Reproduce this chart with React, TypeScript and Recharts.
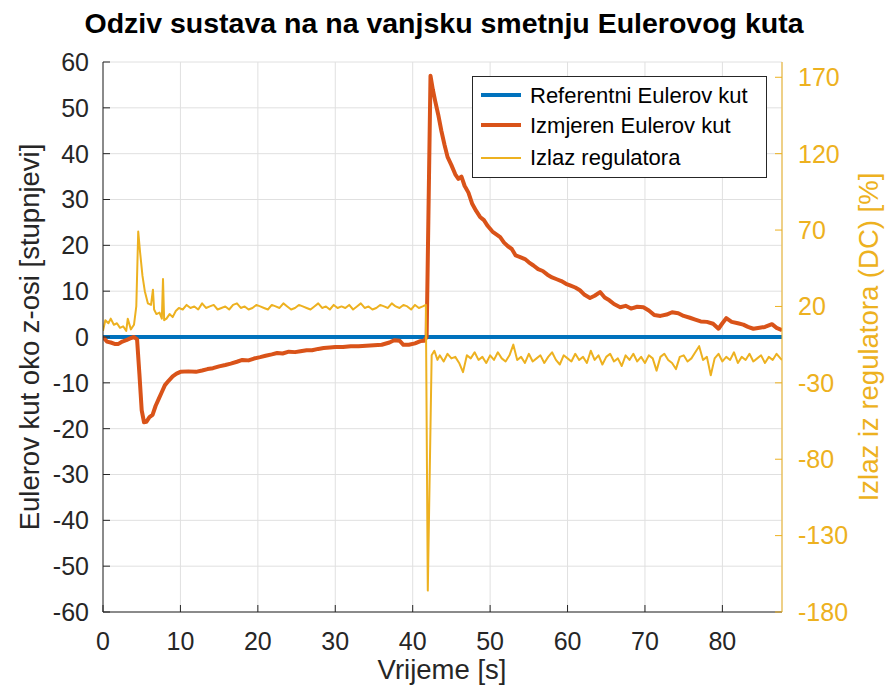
import { CartesianGrid, Line, LineChart, XAxis, YAxis } from "recharts"

const FONT = "'Liberation Sans', Arial, Helvetica, sans-serif"
const BLUE = "#0072BD"
const ORANGE = "#D95319"
const YELLOW = "#EDB120"
const AXIS = "#262626"

const xTicks = [0, 10, 20, 30, 40, 50, 60, 70, 80]
const leftTicks = [-60, -50, -40, -30, -20, -10, 0, 10, 20, 30, 40, 50, 60]
const rightTicks = [-180, -130, -80, -30, 20, 70, 120, 170]

// referentni kut (lijeva os)
const refT = [0, 87.7]
const refV = [0, 0]

// izmjereni kut (lijeva os)
const measT = [
  0, 0.5, 1, 1.5, 2, 2.5, 3, 3.5, 4, 4.4, 4.7, 5.0, 5.3, 5.6, 6.0, 6.4, 6.8, 7.2, 7.6, 8.0,
  8.5, 9.0, 9.5, 10, 11, 12, 12.8, 13.5, 14.2, 15, 15.8, 16.5, 17.3, 18, 18.8, 19.5, 20.3, 21, 21.8, 22.5,
  23.2, 24, 24.8, 25.5, 26.3, 27, 27.8, 28.5, 29.3, 30, 31, 32, 33, 34, 35, 36, 37, 37.6, 38.3, 38.8,
  39.5, 40.3, 41, 41.5, 41.8, 42.3, 42.6, 42.9, 43.3, 43.7, 44.1, 44.5, 45.0, 45.5, 45.9, 46.3, 46.7, 47.2, 47.7, 48.2,
  48.7, 49.2, 49.7, 50.3, 50.8, 51.3, 51.8, 52.3, 52.8, 53.3, 53.8, 54.5, 55, 55.6, 56.2, 56.8, 57.4, 58, 58.6, 59.2,
  59.8, 60.4, 61, 61.6, 62.2, 62.9, 63.5, 64.2, 64.8, 65.4, 66, 66.8, 67.5, 68.2, 69, 69.8, 70.5, 71.2, 72, 72.8,
  73.5, 74.3, 75, 75.8, 76.5, 77.2, 78, 78.8, 79.5, 80, 80.5, 81.2, 82, 82.7, 83.3, 84, 84.8, 85.5, 86.4, 87,
  87.7,
]
const measV = [
  0, -1, -1.2, -1.5, -1.5, -1, -0.7, -0.3, 0, -0.5, -8, -16, -18.6, -18.5, -17.5, -17, -15, -13.5, -12, -10.5,
  -9.5, -8.6, -8, -7.6, -7.5, -7.6, -7.3, -7, -6.8, -6.4, -6.1, -5.8, -5.4, -5, -5.1, -4.7, -4.4, -4.1, -3.8, -3.5,
  -3.6, -3.2, -3.3, -3.1, -2.9, -2.9, -2.6, -2.4, -2.3, -2.2, -2.2, -2, -2, -1.9, -1.8, -1.7, -1.2, -0.7, -0.8, -1.7,
  -1.7, -1.4, -0.9, -0.8, 0, 57, 54, 51.5, 48.5, 45, 42, 39.3, 37.5, 35.5, 34.5, 35, 33, 31.5, 29, 27.5,
  26.2, 25.5, 24.2, 23, 22.4, 21.8, 20.6, 19.8, 19.2, 17.8, 17.5, 17, 16.3, 15.6, 14.8, 14.4, 13.6, 13, 12.6, 12.2,
  11.6, 11.2, 10.8, 10.2, 9.2, 8.5, 9.0, 9.8, 8.6, 8, 7.2, 6.5, 6.8, 6.2, 6.6, 6.5, 5.8, 4.8, 4.6, 4.9,
  5.4, 5.2, 4.6, 4.2, 3.8, 3.4, 3.3, 2.9, 1.8, 3, 4.1, 3.3, 3, 2.7, 2.2, 1.8, 2, 2.2, 2.8, 2,
  1.5,
]

// izlaz regulatora (desna os, %)
const outT = [
  0, 0.3, 0.7, 1.0, 1.4, 1.8, 2.2, 2.6, 3.0, 3.2, 3.6, 4.0, 4.3, 4.55, 4.8, 5.1, 5.4, 5.8, 6.2, 6.45,
  6.6, 6.9, 7.3, 7.6, 7.75, 7.9, 8.2, 8.6, 9.0, 9.4, 9.8,
  10.3, 10.8, 11.3, 11.8, 12.3, 12.8, 13.3, 13.8, 14.3, 14.8, 15.3, 15.8, 16.3, 16.8, 17.3, 17.8,
  18.3, 18.8, 19.3, 19.8, 20.3, 20.8, 21.3, 21.8, 22.3, 22.8, 23.3, 23.8, 24.3, 24.8, 25.3, 25.8,
  26.3, 26.8, 27.3, 27.8, 28.3, 28.8, 29.3, 29.8, 30.3, 30.8, 31.3, 31.8, 32.3, 32.8, 33.3, 33.8,
  34.3, 34.8, 35.3, 35.8, 36.3, 36.8, 37.3, 37.8, 38.3, 38.8, 39.3, 39.8, 40.3, 40.8, 41.3, 41.7,
  41.95, 42.45, 42.8, 43.2,
  43.5, 44, 44.5, 45, 45.5, 46, 46.5, 47, 47.5, 48, 48.5, 49, 49.5, 50, 50.5, 51, 51.5, 52, 52.5, 53,
  53.5, 54, 54.5, 55, 55.5, 56, 56.5, 57, 57.5, 58, 58.5, 59, 59.5, 60, 60.5, 61, 61.5, 62, 62.5, 63,
  63.5, 64, 64.5, 65, 65.5, 66, 66.5, 67, 67.5, 68, 68.5, 69, 69.5, 70, 70.5, 71, 71.5, 72, 72.5, 73,
  73.5, 74, 74.5, 75, 75.5, 76, 76.5, 77, 77.5, 78, 78.5, 79, 79.5, 80, 80.5, 81, 81.5, 82, 82.5, 83,
  83.5, 84, 84.5, 85, 85.5, 86, 86.5, 87, 87.5, 87.7,
]
const outV = [
  4, 11, 9, 12, 8, 9, 6, 7, 4, 12, 5, 8, 20, 69, 55, 40, 30, 22, 21, 31,
  18, 15, 16, 12, 38, 11, 12, 15, 13, 17, 19,
  18, 21, 19, 20, 18, 22, 19, 20, 21, 18, 19, 20, 18, 21, 22, 19,
  20, 18, 19, 21, 20, 19, 18, 21, 20, 19, 22, 20, 18, 19, 21, 20,
  19, 18, 20, 22, 19, 20, 18, 21, 19, 20, 19, 21, 18, 20, 22, 19,
  20, 18, 19, 21, 20, 19, 22, 20, 19, 21, 20, 18, 21, 19, 20, 21,
  -166, -12, -9, -15,
  -12, -16, -11, -14, -13, -17, -23, -12, -14, -10, -15, -13, -17, -12, -15, -10, -14, -16, -12, -5,
  -15, -13, -17, -11, -16, -14, -12, -17, -13, -10, -15, -18, -12, -14, -16, -11, -15, -13, -17, -9,
  -15, -12, -18, -13, -11, -16, -14, -19, -12, -15, -11, -16, -13, -17, -12, -14, -22, -13, -11, -15,
  -17, -21, -13, -12, -16, -14, -10, -6, -15, -13, -25, -14, -11, -16, -13, -15, -10, -17, -13, -15,
  -11, -16, -14, -12, -17, -13, -15, -11, -14, -15,
]

const seriesNames = ["Referentni Eulerov kut", "Izmjeren Eulerov kut", "Izlaz regulatora"]
const seriesColors = [BLUE, ORANGE, YELLOW]
const seriesWidths = [4, 4, 2]

const zip = (t: number[], v: number[]) => t.map((x, i) => ({ t: x, v: v[i] }))

const refData = zip(refT, refV)
const measData = zip(measT, measV)
const outData = zip(outT, outV)

const tickStyle = { fontSize: 25, fill: AXIS, fontFamily: FONT }

export default function App() {
  return (
    <div style={{ position: "absolute", left: 0, top: 0, width: 887, height: 686, background: "#fff" }}>
      <LineChart width={887} height={686} margin={{ top: 62, right: 0, bottom: 0, left: 0 }}>
        <CartesianGrid xAxisId="bottom" yAxisId="left" stroke="#e0e0e0" />
        <XAxis
          xAxisId="bottom"
          type="number"
          dataKey="t"
          domain={[0, 87.7]}
          ticks={xTicks}
          height={74}
          allowDataOverflow
          tickSize={-7}
          tickMargin={27}
          stroke={AXIS}
          tick={tickStyle}
        />
        <XAxis
          xAxisId="top"
          orientation="top"
          type="number"
          dataKey="t"
          domain={[0, 87.7]}
          ticks={xTicks}
          height={0}
          allowDataOverflow
          tickSize={-7}
          tickFormatter={() => ""}
          stroke={AXIS}
        />
        <YAxis
          yAxisId="left"
          type="number"
          domain={[-60, 60]}
          ticks={leftTicks}
          width={103}
          tickSize={-7}
          tickMargin={21}
          stroke={AXIS}
          tick={tickStyle}
        />
        <YAxis
          yAxisId="right"
          orientation="right"
          type="number"
          domain={[-180, 180]}
          ticks={rightTicks}
          width={105}
          tickSize={-7}
          tickMargin={23}
          stroke={YELLOW}
          tick={{ ...tickStyle, fill: YELLOW }}
        />
        <Line
          xAxisId="bottom"
          yAxisId="left"
          data={refData}
          dataKey="v"
          stroke={BLUE}
          strokeWidth={4}
          dot={false}
          isAnimationActive={false}
        />
        <Line
          xAxisId="bottom"
          yAxisId="left"
          data={measData}
          dataKey="v"
          stroke={ORANGE}
          strokeWidth={4}
          strokeLinejoin="round"
          dot={false}
          isAnimationActive={false}
        />
        <Line
          xAxisId="bottom"
          yAxisId="right"
          data={outData}
          dataKey="v"
          stroke={YELLOW}
          strokeWidth={2}
          strokeLinejoin="round"
          dot={false}
          isAnimationActive={false}
        />
      </LineChart>
      <svg
        width={887}
        height={686}
        style={{ position: "absolute", left: 0, top: 0, pointerEvents: "none" }}
        fontFamily={FONT}
      >
        <text x={444} y={33} textAnchor="middle" fontSize={28.5} fontWeight="bold" fill="#000">
          Odziv sustava na na vanjsku smetnju Eulerovog kuta
        </text>
        <text x={442} y={679} textAnchor="middle" fontSize={27.5} fill={AXIS}>
          Vrijeme [s]
        </text>
        <text transform="translate(39,337) rotate(-90)" textAnchor="middle" fontSize={27.5} fill={AXIS}>
          Eulerov kut oko z-osi [stupnjevi]
        </text>
        <text transform="translate(878,337) rotate(-90)" textAnchor="middle" fontSize={27.5} fill={YELLOW}>
          Izlaz iz regulatora (DC) [%]
        </text>
        <rect x={472.5} y={76.5} width={294} height={101} fill="#fff" stroke={AXIS} strokeWidth={1} />
        {seriesNames.map((name, i) => {
          const lineY = [95, 125, 158][i]
          const textY = [103, 133, 165][i]
          return (
            <g key={name}>
              <line x1={481} x2={521} y1={lineY} y2={lineY} stroke={seriesColors[i]} strokeWidth={seriesWidths[i]} />
              <text x={530} y={textY} fontSize={22} fill="#000">
                {name}
              </text>
            </g>
          )
        })}
      </svg>
    </div>
  )
}
